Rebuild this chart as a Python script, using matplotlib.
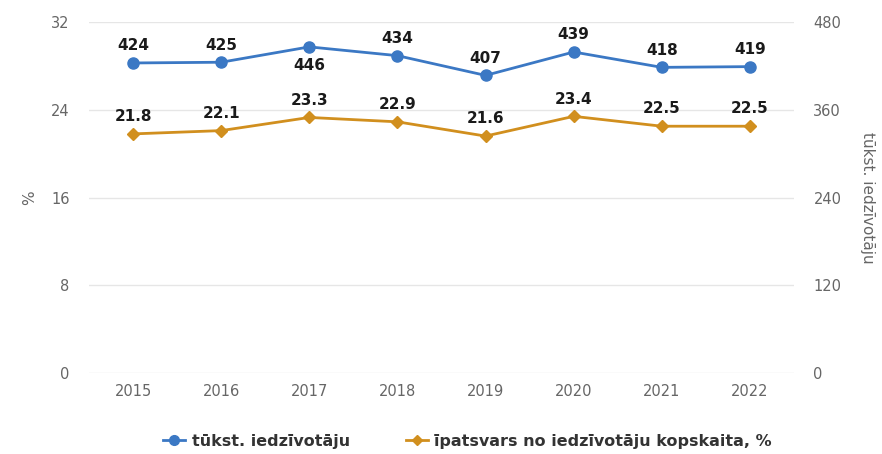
import matplotlib
matplotlib.use("Agg")
import matplotlib.pyplot as plt
from matplotlib.lines import Line2D

years = ["2015", "2016", "2017", "2018", "2019", "2020", "2021", "2022"]
residents = [424, 425, 446, 434, 407, 439, 418, 419]
share = [21.8, 22.1, 23.3, 22.9, 21.6, 23.4, 22.5, 22.5]

blue = "#3b78c4"
orange = "#d18f1e"
grid_c = "#e6e6e6"
tick_c = "#666666"

plt.rcParams['font.family'] = ['DejaVu Sans']

fig = plt.figure(figsize=(8.82, 4.54), dpi=100)
ax = fig.add_axes([0.1009, 0.1784, 0.7993, 0.7731])
ax2 = ax.twinx()

x = list(range(len(years)))

ax.set_ylim(0, 32)
ax.set_yticks([0, 8, 16, 24, 32])
ax2.set_ylim(0, 480)
ax2.set_yticks([0, 120, 240, 360, 480])
ax.set_xlim(-0.5, len(years) - 0.5)
ax.set_xticks(x)
ax.set_xticklabels(years)

ax.grid(axis="y", color=grid_c, linewidth=1)
ax.set_axisbelow(True)
for a in (ax, ax2):
    for s in a.spines.values():
        s.set_visible(False)
    a.tick_params(length=0, colors=tick_c, labelsize=10.5)
ax.tick_params(axis="y", pad=14)
ax2.tick_params(axis="y", pad=14)
ax.tick_params(axis="x", pad=8)

ax.plot(x, share, color=orange, lw=2, marker="D", ms=6, zorder=3)
ax2.plot(x, residents, color=blue, lw=2, marker="o", ms=8, zorder=3)

for i, v in enumerate(share):
    ax.annotate(f"{v}", (i, v), xytext=(0, 7), textcoords="offset points",
                ha="center", va="bottom", fontsize=11, fontweight="bold", color="#1a1a1a")
for i, v in enumerate(residents):
    if v == max(residents):
        off, va = -8, "top"
    else:
        off, va = 7, "bottom"
    ax2.annotate(f"{v}", (i, v), xytext=(0, off), textcoords="offset points",
                 ha="center", va=va, fontsize=11, fontweight="bold", color="#1a1a1a")

ax.set_ylabel("%", color=tick_c, fontsize=11, labelpad=10)
ax2.set_ylabel("tūkst. iedzīvotāju", color=tick_c, fontsize=11, rotation=270, labelpad=24)

handles = [Line2D([], [], color=blue, lw=2, marker="o", ms=7),
           Line2D([], [], color=orange, lw=2, marker="D", ms=5)]
leg = fig.legend(handles, ["tūkst. iedzīvotāju", "īpatsvars no iedzīvotāju kopskaita, %"],
                 loc="center", bbox_to_anchor=(0.53, 0.028), ncol=2, frameon=False,
                 handlelength=1.4, handletextpad=0.4, columnspacing=3.5,
                 prop={"weight": "bold", "size": 11.5})
for t in leg.get_texts():
    t.set_color("#333333")

fig.savefig("out.png", dpi=100)
